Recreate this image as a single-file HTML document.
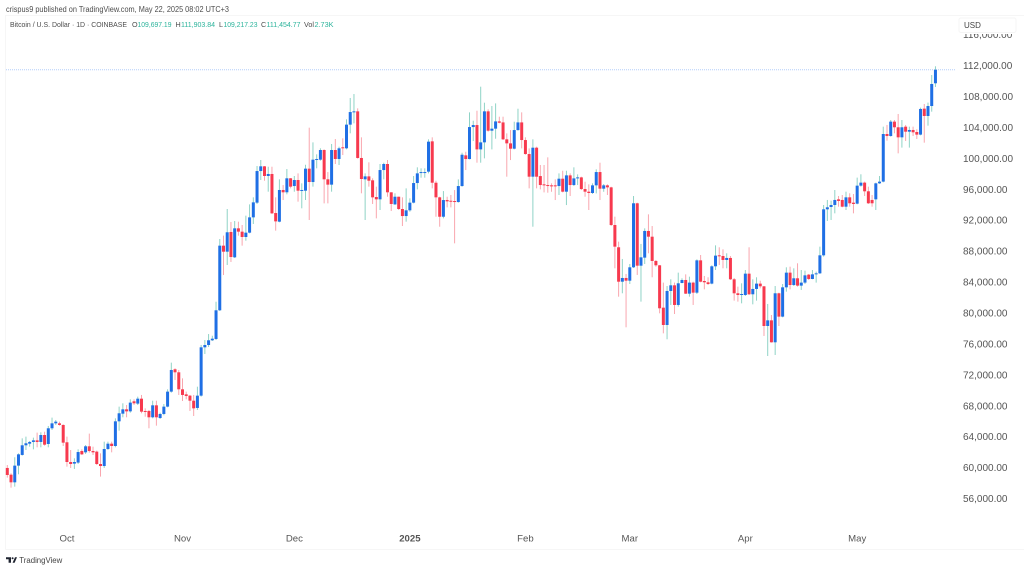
<!DOCTYPE html>
<html lang="en">
<head>
<meta charset="utf-8">
<title>Bitcoin / U.S. Dollar chart</title>
<style>
  html, body { margin: 0; padding: 0; background: #ffffff; }
  body { width: 1024px; height: 570px; overflow: hidden; }
  svg { display: block; font-family: "Liberation Sans", sans-serif; filter: blur(0.3px); }
  .muted { fill: #4d4d4d; }
  .val { fill: #2bb39b; }
  .axis { fill: #555555; font-size: 10px; }
  .taxis { fill: #555555; font-size: 9.6px; text-anchor: middle; }
</style>
</head>
<body>
<svg id="chart" width="1024" height="570" viewBox="0 0 1024 570" xmlns="http://www.w3.org/2000/svg">
  <rect x="0" y="0" width="1024" height="570" fill="#ffffff"/>
  <path d="M5.5 549.5V15.5H1024M5.5 549.5H1024" fill="none" stroke="#f6f6f6" stroke-width="1"/>
  <text class="muted" x="6" y="12" font-size="7.8" textLength="223" lengthAdjust="spacingAndGlyphs">crispus9 published on TradingView.com, May 22, 2025 08:02 UTC+3</text>
  <g font-size="7.2">
    <text class="muted" x="10" y="26.8" textLength="117" lengthAdjust="spacingAndGlyphs">Bitcoin / U.S. Dollar · 1D · COINBASE</text>
    <text class="muted" x="132" y="26.8">O</text>
    <text class="val" x="137.5" y="26.8" textLength="34" lengthAdjust="spacingAndGlyphs">109,697.19</text>
    <text class="muted" x="175.5" y="26.8">H</text>
    <text class="val" x="181" y="26.8" textLength="34" lengthAdjust="spacingAndGlyphs">111,903.84</text>
    <text class="muted" x="219" y="26.8">L</text>
    <text class="val" x="223.5" y="26.8" textLength="34" lengthAdjust="spacingAndGlyphs">109,217.23</text>
    <text class="muted" x="261" y="26.8">C</text>
    <text class="val" x="266.5" y="26.8" textLength="34" lengthAdjust="spacingAndGlyphs">111,454.77</text>
    <text class="muted" x="304" y="26.8">Vol</text>
    <text class="val" x="314.5" y="26.8" textLength="19" lengthAdjust="spacingAndGlyphs">2.73K</text>
  </g>
  <g id="last-price"></g>
  <g id="candles"></g>
  <g id="price-axis"></g>
  <g id="time-axis"></g>
  <rect x="959" y="18" width="57" height="16" fill="#ffffff"/>
  <rect x="959" y="18" width="57" height="14.5" rx="2" fill="#ffffff" stroke="#f5f5f5"/>
  <text x="964" y="28" font-size="8" fill="#444444">USD</text>
  <g>
    <path d="M6 557.3h5v5.4H8.6V559.3H6zM15 557.3h2l-2.4 5.4h-2z" fill="#1f2430"/>
    <circle cx="12.6" cy="558.2" r="1" fill="#1f2430"/>
    <text x="19.3" y="563" font-size="8" fill="#444444" textLength="43" lengthAdjust="spacingAndGlyphs">TradingView</text>
  </g>
</svg>
<script>
const opens = [59.95,59.08,58.09,60.25,61.63,62.88,63.09,63.31,63.52,63.31,
64.21,63.05,65.08,65.72,65.72,65.51,63.27,60.72,60.51,60.64,
62.14,61.97,62.75,62.14,62.06,60.46,60.20,62.40,63.09,62.79,
65.98,66.97,67.53,67.27,68.57,68.27,68.91,67.32,67.32,66.50,
68.05,66.41,66.93,67.88,69.82,72.71,72.32,70.12,69.47,69.30,
68.65,67.71,69.30,75.55,75.85,76.46,76.63,80.34,88.70,87.92,
90.47,87.19,90.94,90.51,89.82,90.38,92.36,94.26,98.35,98.96,
97.71,97.97,92.92,91.80,95.90,95.60,97.41,96.41,97.19,95.81,
95.81,98.66,96.93,99.82,99.82,101.07,97.28,96.59,101.07,99.91,
101.42,101.29,104.35,105.98,106.07,100.04,97.28,97.66,97.15,94.99,
94.69,98.48,99.26,95.60,94.04,95.03,93.44,92.53,93.27,94.26,
96.80,98.14,98.18,98.27,102.19,96.84,94.95,92.44,94.60,94.51,
94.47,94.34,96.41,100.38,99.90,104.04,104.30,101.15,102.06,106.07,
103.57,103.83,104.77,104.64,102.45,101.93,101.24,103.65,104.64,102.36,
100.55,97.62,101.37,97.70,96.63,96.54,96.50,96.50,96.41,97.36,
95.68,97.79,96.54,97.40,97.53,96.02,95.68,95.51,96.50,98.22,
96.07,96.50,96.24,91.37,88.49,84.04,84.52,84.17,85.90,94.18,
86.11,87.15,90.60,89.86,86.72,86.16,80.68,78.44,82.84,83.57,
81.03,83.87,84.26,82.49,83.92,82.62,86.80,84.13,83.96,83.79,
86.03,87.45,87.36,86.85,87.11,84.35,82.54,82.32,82.32,85.08,
82.41,83.10,83.79,83.44,78.31,79.04,76.20,82.54,79.52,83.31,
85.21,83.61,84.48,83.53,83.92,84.95,84.39,84.99,85.12,87.45,
93.40,93.70,93.96,94.69,94.61,93.74,94.95,94.26,94.13,96.46,
96.85,95.73,94.61,94.69,96.76,96.98,103.14,102.88,104.74,104.01,
102.71,104.09,103.44,103.66,103.40,103.06,106.42,105.47,106.76,109.70];

const highs = [60.33,59.26,61.33,61.84,63.78,64.00,63.44,63.87,64.52,64.56,
64.64,65.38,66.46,66.15,65.94,65.59,64.00,62.27,61.20,62.36,
62.36,62.92,64.39,62.70,62.19,61.84,63.35,63.35,63.35,66.37,
67.88,68.31,68.09,68.83,68.83,69.17,69.39,67.66,67.45,68.65,
68.65,67.10,68.22,70.12,73.57,72.84,72.62,71.54,69.82,69.39,
69.39,70.46,75.86,76.50,77.27,77.05,81.45,89.56,90.00,93.44,
91.76,91.89,91.80,91.37,92.58,94.04,94.95,99.00,99.78,99.00,
98.91,98.91,94.95,97.28,96.54,98.61,97.45,97.71,98.05,96.76,
99.17,103.96,102.06,100.51,101.29,101.16,98.22,101.85,102.49,101.50,
102.58,105.04,107.80,108.31,106.46,102.71,98.05,99.48,97.41,96.33,
99.26,99.43,99.78,95.60,95.47,95.03,94.95,96.11,94.82,97.71,
98.83,98.70,98.70,102.45,102.71,97.10,95.03,95.76,95.03,95.25,
95.89,97.27,100.72,100.85,105.94,104.86,106.15,109.26,107.19,106.33,
106.76,107.10,105.38,105.38,103.22,103.65,104.73,106.41,105.94,102.71,
101.28,102.45,101.50,99.13,99.13,100.12,96.76,97.27,98.05,98.39,
98.39,98.05,98.83,97.92,97.62,96.97,96.63,96.76,98.57,99.43,
96.67,96.63,96.32,92.45,89.22,86.98,85.04,86.33,95.12,94.26,
88.92,90.94,92.75,91.24,86.85,86.20,83.92,83.48,84.35,83.92,
85.21,84.48,84.99,84.69,84.04,86.93,87.49,84.78,84.61,86.16,
88.74,88.49,88.23,87.71,87.36,84.52,83.40,83.83,85.55,88.49,
84.35,84.61,84.17,83.48,81.16,79.73,83.48,82.62,83.74,85.90,
85.98,85.77,86.42,85.55,85.47,85.04,85.55,85.34,88.57,93.96,
94.61,94.52,95.90,95.12,95.25,95.68,95.47,95.38,97.50,97.93,
96.98,96.33,95.25,96.85,97.71,104.09,104.31,104.95,104.95,105.73,
104.95,104.31,104.09,104.09,103.75,106.55,107.02,107.20,110.77,111.90];

const lows = [58.70,57.40,57.53,59.13,61.54,62.27,62.70,62.36,62.62,62.62,
62.83,62.62,64.86,65.51,65.42,62.79,60.12,59.95,59.82,60.46,
61.63,61.76,61.93,61.63,60.33,58.83,59.95,62.27,61.97,62.62,
64.77,66.50,66.50,67.10,68.09,68.09,67.02,66.58,65.08,66.37,
65.42,66.28,66.76,67.79,69.69,71.33,69.39,68.61,68.83,67.32,
66.67,67.45,69.17,74.69,75.59,76.37,76.50,80.25,84.90,86.20,
86.59,87.10,89.99,88.70,89.34,90.29,91.50,94.09,97.19,97.10,
95.68,92.79,90.64,91.72,94.60,95.34,96.11,95.68,94.39,93.53,
94.60,92.02,96.33,98.70,99.69,94.17,94.17,95.68,99.26,99.13,
100.42,101.16,103.23,104.52,99.95,95.47,92.02,96.33,94.09,92.23,
93.31,97.28,95.03,93.18,93.96,93.31,91.24,91.80,93.09,94.17,
95.98,97.49,97.49,98.05,96.11,92.44,91.15,92.23,93.65,93.65,
89.00,94.26,96.32,98.48,99.86,102.23,99.43,99.43,99.99,103.44,
101.15,102.53,104.52,102.36,97.62,99.77,101.15,103.57,101.28,100.46,
96.11,91.15,96.11,95.98,95.59,95.55,95.67,94.60,95.25,95.59,
93.95,95.12,96.41,96.54,95.89,95.03,93.31,95.38,95.46,94.60,
95.67,95.25,91.24,85.77,82.10,82.54,78.14,83.74,85.81,84.91,
81.46,86.33,87.71,84.61,85.98,79.95,77.36,76.59,81.03,79.86,
80.81,83.83,82.45,82.10,81.03,82.45,83.96,83.05,83.61,83.70,
85.55,86.20,85.77,85.77,84.26,81.59,81.46,81.24,82.19,82.32,
81.11,81.59,83.18,77.02,74.43,76.16,74.56,78.31,79.43,82.75,
83.05,83.48,83.40,82.97,83.74,84.26,84.35,83.92,85.04,87.28,
91.89,92.02,92.88,93.74,93.66,93.31,93.74,92.88,94.05,96.33,
95.12,94.09,93.74,93.31,96.68,96.89,102.28,102.80,103.23,100.64,
101.38,102.24,101.38,102.88,102.50,102.97,102.02,104.22,106.03,109.22];

const closes = [59.04,58.09,60.25,61.71,62.88,63.14,63.31,63.52,63.31,64.21,
62.96,65.08,65.72,65.94,65.51,63.22,60.72,60.46,60.72,62.01,
61.71,62.75,62.14,61.97,60.46,60.20,62.40,63.09,62.79,65.98,
67.02,67.53,67.27,68.40,68.31,68.91,67.23,67.19,66.50,68.05,
66.50,66.93,67.88,69.82,72.62,72.32,70.12,69.39,69.26,68.65,
67.66,69.30,75.55,75.85,76.46,76.67,80.34,88.70,87.92,90.43,
87.23,90.94,90.51,89.82,90.38,92.36,94.30,98.35,98.96,97.71,
97.97,92.88,91.84,95.90,95.60,97.41,96.33,97.19,95.81,95.90,
98.66,96.93,99.82,99.91,101.07,97.28,96.59,101.07,99.91,101.29,
101.29,104.35,105.98,106.07,100.04,97.32,97.66,97.10,94.95,94.69,
98.48,99.26,95.60,94.09,95.03,93.44,92.53,93.27,94.26,96.80,
98.05,98.22,98.22,102.15,96.84,94.95,92.44,94.60,94.43,94.43,
94.38,96.41,100.46,99.90,104.04,104.30,101.15,102.06,106.07,103.57,
103.83,104.77,104.60,102.45,101.93,101.24,103.65,104.64,102.36,100.55,
97.62,101.37,97.62,96.54,96.50,96.45,96.41,96.37,97.36,95.68,
97.79,96.54,97.40,97.53,96.02,95.68,95.51,96.50,98.22,96.07,
96.50,96.24,91.37,88.57,84.04,84.52,84.17,85.90,94.18,86.11,
87.19,90.60,89.86,86.72,86.16,80.60,78.44,82.84,83.57,81.03,
83.83,84.26,82.49,83.92,82.62,86.80,84.04,83.96,83.74,86.03,
87.41,87.32,86.85,87.11,84.35,82.54,82.32,82.45,85.08,82.41,
83.10,83.79,83.44,78.31,79.04,76.20,82.54,79.52,83.31,85.21,
83.61,84.48,83.53,83.92,84.86,84.39,84.99,85.12,87.45,93.40,
93.66,93.96,94.61,94.48,93.74,94.95,94.18,94.09,96.46,96.85,
95.73,94.18,94.18,96.76,96.98,103.14,102.88,104.74,104.01,102.71,
104.01,103.44,103.66,103.36,103.06,106.38,105.47,106.76,109.61,111.45];

const priceTicks = [116,112,108,104,100,96,92,88,84,80,76,72,68,64,60,56];
const timeLabels = ["Oct","Nov","Dec","2025","Feb","Mar","Apr","May"];
const timeIndices = [17,48,78,109,140,168,199,229];
const lastPrice = 111.45;

const SVG_NS = "http://www.w3.org/2000/svg";
function xScale(i) { return 7.3 + 3.7275 * i; }
function yScale(k) { return 65.5 + (112 - k) * 7.732; }
function make(tag, attrs, parent) {
  const el = document.createElementNS(SVG_NS, tag);
  for (const key in attrs) el.setAttribute(key, attrs[key]);
  parent.appendChild(el);
  return el;
}

const candleLayer = document.getElementById("candles");
opens.forEach(function (open, i) {
  const close = closes[i];
  const up = close >= open;
  const x = xScale(i);
  const top = yScale(Math.max(open, close));
  const bottom = yScale(Math.min(open, close));
  const group = make("g", {}, candleLayer);
  
  
  const wick = make("line", {
    x1: x, x2: x, y1: yScale(highs[i]), y2: yScale(lows[i]),
    stroke: up ? "#8fd3c6" : "#f9a6ae", "stroke-width": 1
  }, group);
  
  
  const body = make("rect", {
    x: x - 1.5, y: top, width: 3, height: Math.max(bottom - top, 1),
    fill: up ? "#1f6fe5" : "#f7394e"
  }, group);
  
  
});

const lastLayer = document.getElementById("last-price");
const lastLine = make("line", {
  x1: 6, x2: 956, y1: yScale(lastPrice), y2: yScale(lastPrice),
  stroke: "#b4cdfa", "stroke-width": 1, "stroke-dasharray": "1 1"
}, lastLayer);



const priceAxis = document.getElementById("price-axis");
priceTicks.forEach(function (tick) {
  const label = make("text", { x: 963, y: yScale(tick) + 3.6, "class": "axis" }, priceAxis);
  
  
  label.textContent = (tick * 1000).toLocaleString("en-US") + ".00";
});

const timeAxis = document.getElementById("time-axis");
timeLabels.forEach(function (name, i) {
  const label = make("text", { x: xScale(timeIndices[i]) - 3.7, y: 541.5, "class": "taxis" }, timeAxis);
  
  
  if (name === "2025") label.setAttribute("font-weight", "bold");
  label.textContent = name;
});
</script>
</body>
</html>
